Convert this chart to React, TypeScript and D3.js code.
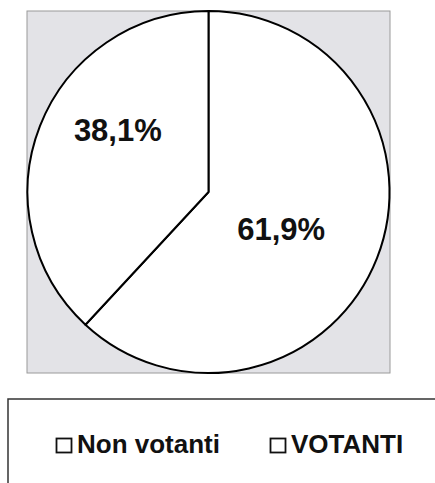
import React from 'react';
import * as d3 from 'd3';

// pie slices, in drawing order (clockwise from 12 o'clock)
const categories = ['VOTANTI', 'Non votanti'];
const shares = [61.9, 38.1];
const sliceLabels = ['61,9%', '38,1%'];
// legend reads in the opposite order
const legendOrder = ['Non votanti', 'VOTANTI'];

const WIDTH = 435;
const HEIGHT = 483;
const FONT = '"Liberation Sans", Arial, sans-serif';

// small hand nudges so the labels sit where the original put them
const labelNudge: Record<string, { dx: number; dy: number }> = {
  VOTANTI: { dx: -20, dy: 1 },
  'Non votanti': { dx: 2, dy: -26 },
};

export default function App() {
  const plot = { x: 27, y: 11, w: 363, h: 362 };
  const cx = plot.x + plot.w / 2;
  const cy = plot.y + plot.h / 2;
  const radius = Math.min(plot.w, plot.h) / 2;

  const rows = categories.map((c, i) => ({ key: c, value: shares[i], label: sliceLabels[i] }));
  const pie = d3.pie<any>().sort(null).value(d => d.value);
  const arcs = pie(rows);

  const arc = d3.arc<any>().innerRadius(0).outerRadius(radius);
  const labelArc = d3.arc<any>().innerRadius(radius * 0.55).outerRadius(radius * 0.55);

  const legendX = d3.scalePoint<string>().domain(legendOrder).range([56, 270]);
  const legendY = 438;
  const swatch = 15;

  return (
    <svg
      width={WIDTH}
      height={HEIGHT}
      style={{ position: 'absolute', left: 0, top: 0, display: 'block', background: '#fff' }}
    >
      {/* grey plot area */}
      <rect x={plot.x} y={plot.y} width={plot.w} height={plot.h} fill="#e3e3e7" stroke="#9a9a9a" strokeWidth={1} />

      <g transform={`translate(${cx},${cy})`}>
        {arcs.map(a => (
          <path key={a.data.key} d={arc(a) || ''} fill="#fff" stroke="#000" strokeWidth={2} strokeLinejoin="round" />
        ))}
        {arcs.map(a => {
          const [x, y] = labelArc.centroid(a);
          const n = labelNudge[a.data.key];
          return (
            <text
              key={a.data.key}
              x={x + n.dx}
              y={y + n.dy + 11}
              textAnchor="middle"
              fontFamily={FONT}
              fontWeight="bold"
              fontSize={31}
              fill="#111"
            >
              {a.data.label}
            </text>
          );
        })}
      </g>

      {/* legend box, runs off the right and bottom edges */}
      <rect x={8} y={399} width={520} height={200} fill="#fff" stroke="#333" strokeWidth={1.5} />
      {legendOrder.map(k => (
        <g key={k} transform={`translate(${legendX(k)},${legendY})`}>
          <rect x={0.5} y={0.5} width={swatch} height={swatch - 1} fill="#fff" stroke="#111" strokeWidth={1.8} />
          <text x={swatch + 6} y={swatch} fontFamily={FONT} fontWeight="bold" fontSize={26} fill="#111">
            {k}
          </text>
        </g>
      ))}
    </svg>
  );
}
